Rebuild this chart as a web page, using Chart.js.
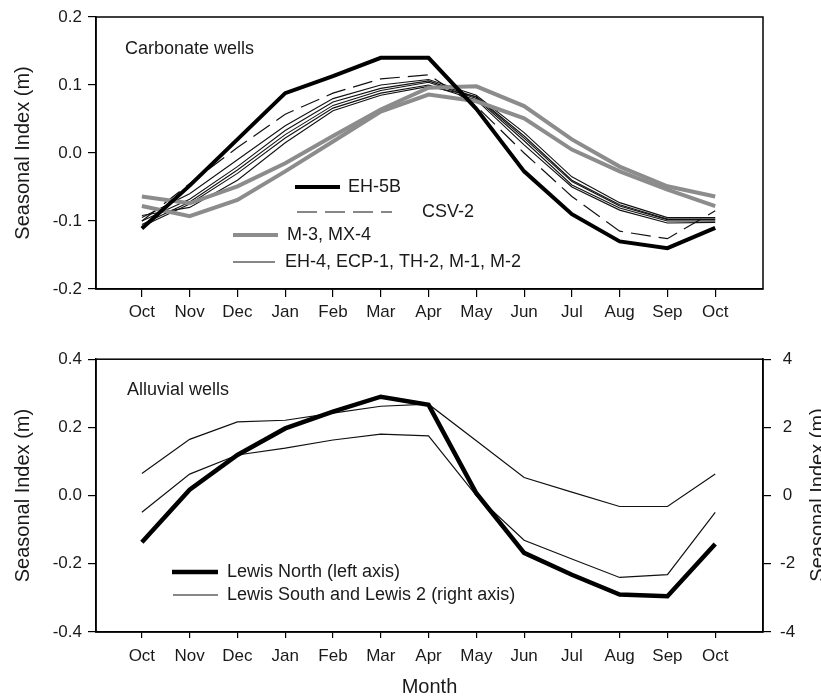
<!DOCTYPE html>
<html>
<head>
<meta charset="utf-8">
<title>Seasonal Index – carbonate and alluvial wells</title>
<script src="https://cdn.jsdelivr.net/npm/chart.js@4.4.1/dist/chart.umd.min.js"></script>
<style>
  html, body { margin: 0; padding: 0; background: #fff; }
  #wrap { position: relative; width: 821px; height: 699px; overflow: hidden; }
  #wrap canvas { position: absolute; left: 0; }
  #carbChart  { top: 0; }
  #alluvChart { top: 340px; }
</style>
</head>
<body>
<div id="wrap">
  <canvas id="carbChart" width="821" height="340"></canvas>
  <canvas id="alluvChart" width="821" height="359"></canvas>
</div>

<script>
/* -------------------------------------------------------
   DATA
------------------------------------------------------- */
const months = ['Oct', 'Nov', 'Dec', 'Jan', 'Feb', 'Mar', 'Apr', 'May', 'Jun', 'Jul', 'Aug', 'Sep', 'Oct'];

// Carbonate wells (m)
const eh5b   = [-0.111, -0.048, 0.020, 0.088, 0.113, 0.140, 0.140, 0.065, -0.027, -0.090, -0.130, -0.140, -0.110];
const csv2   = [-0.100, -0.045, 0.008, 0.057, 0.088, 0.109, 0.115, 0.069, 0.000, -0.064, -0.115, -0.126, -0.085];
const m3     = [-0.064, -0.074, -0.049, -0.015, 0.025, 0.064, 0.096, 0.098, 0.069, 0.020, -0.020, -0.049, -0.064];
const mx4    = [-0.078, -0.093, -0.069, -0.027, 0.017, 0.061, 0.086, 0.076, 0.051, 0.005, -0.027, -0.054, -0.078];
const eh4    = [-0.095, -0.060, -0.010, 0.040, 0.080, 0.100, 0.108, 0.085, 0.030, -0.035, -0.073, -0.095, -0.095];
const ecp1   = [-0.100, -0.068, -0.020, 0.033, 0.075, 0.095, 0.106, 0.082, 0.022, -0.042, -0.078, -0.098, -0.098];
const th2    = [-0.105, -0.072, -0.025, 0.027, 0.070, 0.092, 0.104, 0.080, 0.018, -0.047, -0.081, -0.100, -0.100];
const m1     = [-0.108, -0.075, -0.030, 0.022, 0.066, 0.088, 0.100, 0.078, 0.012, -0.050, -0.084, -0.103, -0.102];
const m2     = [-0.092, -0.080, -0.040, 0.015, 0.062, 0.085, 0.098, 0.083, 0.025, -0.040, -0.076, -0.097, -0.097];

// Alluvial wells: Lewis North on left axis (m), the other two on right axis
const lewisNorth = [-0.137, 0.017, 0.119, 0.197, 0.246, 0.290, 0.266, 0.007, -0.168, -0.232, -0.290, -0.295, -0.142];
const lewisSouth = [0.65, 1.65, 2.16, 2.21, 2.42, 2.62, 2.68, 1.61, 0.53, 0.10, -0.32, -0.32, 0.63];
const lewis2     = [-0.49, 0.63, 1.19, 1.39, 1.63, 1.80, 1.75, 0.00, -1.31, -1.86, -2.40, -2.32, -0.49];

// axis ranges / tick steps
const carbTicks  = { min: -0.2, max: 0.2, step: 0.1 };
const alluvTicks = { min: -0.4, max: 0.4, step: 0.2 };
const rightTicks = { min: -4, max: 4, step: 2 };

/* -------------------------------------------------------
   HELPERS
------------------------------------------------------- */
const FONT   = '"Liberation Sans", Arial, Helvetica, sans-serif';
const INK    = '#1a1a1a';
const GREY   = '#8c8c8c';

const toPoints = arr => arr.map((y, i) => ({ x: i, y: y }));
const fixWidth  = w => scale => { scale.width = w; };
const fixHeight = h => scale => { scale.height = h; };
const fmt1 = v => (Math.abs(v) < 1e-9 ? '0.0' : Number(v).toFixed(1));

function monthAxis(tickLen, pad, height, title) {
  return {
    type: 'linear',
    min: -0.96,
    max: 13,
    afterBuildTicks: axis => { axis.ticks = months.map((_, i) => ({ value: i })); },
    afterFit: fixHeight(height),
    grid: { drawOnChartArea: false, drawTicks: true, tickLength: tickLen, color: '#000', lineWidth: 1.2 },
    border: { display: true, color: '#000', width: 1.5 },
    ticks: {
      autoSkip: false, maxRotation: 0, padding: pad, color: INK,
      font: { family: FONT, size: 17 },
      callback: v => months[v]
    },
    title: title ? { display: true, text: title, color: INK, font: { family: FONT, size: 20 }, padding: 0 } : { display: false }
  };
}

function valueAxis(range, position, width, fmt, title, cross) {
  return {
    type: 'linear',
    position: position,
    min: range.min,
    max: range.max,
    afterFit: fixWidth(width),
    grid: { drawOnChartArea: false, drawTicks: true, tickLength: 8, color: '#000', lineWidth: 1.2 },
    border: { display: true, color: '#000', width: 1.5 },
    ticks: {
      stepSize: range.step, padding: position === 'left' ? 6 : 9, color: INK,
      crossAlign: cross || 'near',
      font: { family: FONT, size: 17 },
      callback: fmt
    },
    title: title ? { display: true, text: title, color: INK, font: { family: FONT, size: 20 }, padding: { top: 11, bottom: 0 } } : { display: false }
  };
}

function line(label, data, color, width, extra) {
  return Object.assign({
    label: label,
    data: toPoints(data),
    borderColor: color,
    backgroundColor: color,
    borderWidth: width,
    pointRadius: 0,
    tension: 0,
    fill: false
  }, extra || {});
}

/* -------------------------------------------------------
   PLUGINS: frame box, inside legend, extra text
------------------------------------------------------- */
const frameBox = {
  id: 'frameBox',
  afterDraw(chart) {
    const { ctx, chartArea: a } = chart;
    ctx.save();
    ctx.strokeStyle = '#000';
    ctx.lineWidth = 1.5;
    ctx.strokeRect(a.left, a.top, a.right - a.left, a.bottom - a.top);
    ctx.restore();
  }
};

const insideLegend = {
  id: 'insideLegend',
  afterDraw(chart, args, opts) {
    const ctx = chart.ctx;
    ctx.save();
    ctx.fillStyle = INK;
    ctx.textBaseline = 'middle';
    ctx.textAlign = 'left';
    (opts.texts || []).forEach(t => {
      ctx.font = (t.size || 18) + 'px ' + FONT;
      if (t.rotate) {
        ctx.save();
        ctx.translate(t.x, t.y);
        ctx.rotate(-Math.PI / 2);
        ctx.textAlign = 'center';
        ctx.fillText(t.text, 0, 0);
        ctx.restore();
      } else {
        ctx.fillText(t.text, t.x, t.y);
      }
    });
    (opts.items || []).forEach(it => {
      const ds = chart.data.datasets[it.ds];
      ctx.save();
      ctx.strokeStyle = ds.borderColor;
      ctx.lineWidth = ds.borderWidth;
      ctx.setLineDash(ds.borderDash || []);
      ctx.beginPath();
      ctx.moveTo(it.x0, it.y);
      ctx.lineTo(it.x1, it.y);
      ctx.stroke();
      ctx.restore();
      ctx.font = '18px ' + FONT;
      ctx.fillText(it.text, it.tx, it.y);
    });
    ctx.restore();
  }
};

/* -------------------------------------------------------
   CARBONATE WELLS (top panel)
------------------------------------------------------- */
function buildCarbonate() {
  const ctx = document.getElementById('carbChart').getContext('2d');
  new Chart(ctx, {
    type: 'line',
    data: {
      datasets: [
        line('EH-5B', eh5b, '#000', 4),
        line('M-3', m3, GREY, 4),
        line('MX-4', mx4, GREY, 4),
        line('CSV-2', csv2, '#111', 1.2, { borderDash: [20, 8] }),
        line('EH-4', eh4, '#111', 1.1),
        line('ECP-1', ecp1, '#111', 1.1),
        line('TH-2', th2, '#111', 1.1),
        line('M-1', m1, '#111', 1.1),
        line('M-2', m2, '#111', 1.1)
      ]
    },
    options: {
      responsive: false,
      animation: false,
      events: [],
      layout: { padding: { top: 17, right: 58, left: 0, bottom: 0 } },
      plugins: {
        legend: { display: false },
        tooltip: { enabled: false },
        insideLegend: {
          texts: [{ text: 'Carbonate wells', x: 125, y: 49, size: 18 }],
          items: [
            { ds: 0, text: 'EH-5B', x0: 295, x1: 340, tx: 348, y: 187 },
            { ds: 3, text: 'CSV-2', x0: 297, x1: 392, tx: 422, y: 212 },
            { ds: 1, text: 'M-3, MX-4', x0: 233, x1: 278, tx: 287, y: 235 },
            { ds: 4, text: 'EH-4, ECP-1, TH-2, M-1, M-2', x0: 233, x1: 275, tx: 285, y: 262 }
          ]
        }
      },
      scales: {
        x: monthAxis(8, 5, 51),
        y: valueAxis(carbTicks, 'left', 96, fmt1, 'Seasonal Index (m)')
      }
    },
    plugins: [frameBox, insideLegend]
  });
}

/* -------------------------------------------------------
   ALLUVIAL WELLS (bottom panel, two y axes)
------------------------------------------------------- */
function buildAlluvial() {
  const ctx = document.getElementById('alluvChart').getContext('2d');
  new Chart(ctx, {
    type: 'line',
    data: {
      datasets: [
        line('Lewis North (left axis)', lewisNorth, '#000', 4.5, { yAxisID: 'y' }),
        line('Lewis South', lewisSouth, '#111', 1.2, { yAxisID: 'y1' }),
        line('Lewis 2', lewis2, '#111', 1.2, { yAxisID: 'y1' })
      ]
    },
    options: {
      responsive: false,
      animation: false,
      events: [],
      layout: { padding: { top: 19, right: 0, left: 0, bottom: 0 } },
      plugins: {
        legend: { display: false },
        tooltip: { enabled: false },
        insideLegend: {
          texts: [
            { text: 'Alluvial wells', x: 127, y: 50, size: 18 },
            { text: 'Seasonal Index (m)', x: 818, y: 155, size: 20, rotate: true }
          ],
          items: [
            { ds: 0, text: 'Lewis North (left axis)', x0: 172, x1: 218, tx: 227, y: 232 },
            { ds: 1, text: 'Lewis South and Lewis 2 (right axis)', x0: 173, x1: 218, tx: 227, y: 255 }
          ]
        }
      },
      scales: {
        x: monthAxis(6, 8, 67, 'Month'),
        y: valueAxis(alluvTicks, 'left', 96, fmt1, 'Seasonal Index (m)'),
        y1: valueAxis(rightTicks, 'right', 58, v => String(v), null, 'center')
      }
    },
    plugins: [frameBox, insideLegend]
  });
}

/* -------------------------------------------------------
   INIT
------------------------------------------------------- */
buildCarbonate();
buildAlluvial();
</script>
</body>
</html>
